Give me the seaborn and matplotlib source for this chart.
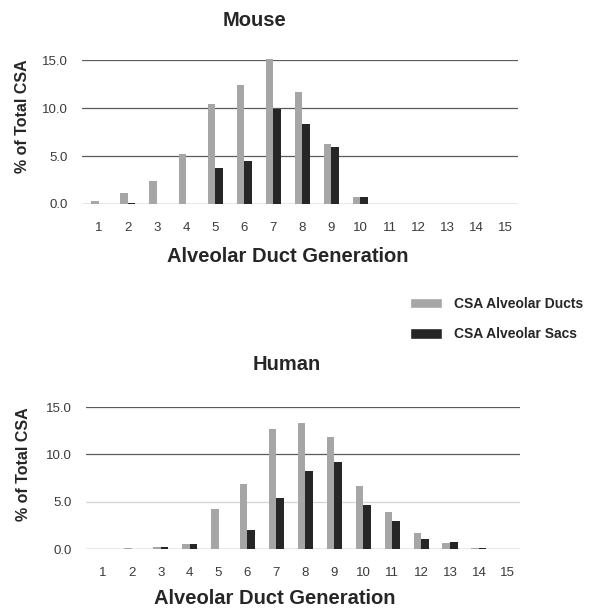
import matplotlib
matplotlib.use("Agg")
import matplotlib.pyplot as plt
import seaborn as sns
import pandas as pd
from matplotlib.patches import Patch

generations = [str(i) for i in range(1, 16)]
mouse_ducts = [0.3, 1.1, 2.4, 5.2, 10.4, 12.4, 15.1, 11.7, 6.3, 0.7, 0, 0, 0, 0, 0]
mouse_sacs = [0.0, 0.1, 0.0, 0.0, 3.7, 4.5, 9.9, 8.3, 5.9, 0.7, 0, 0, 0, 0, 0]
human_ducts = [0.0, 0.1, 0.2, 0.5, 4.2, 6.9, 12.7, 13.3, 11.8, 6.7, 3.9, 1.7, 0.6, 0.15, 0.0]
human_sacs = [0.0, 0.05, 0.2, 0.5, 0.0, 2.0, 5.4, 8.2, 9.2, 4.6, 3.0, 1.1, 0.7, 0.15, 0.0]
series_names = ["CSA Alveolar Ducts", "CSA Alveolar Sacs"]
yticks = [0, 5, 10, 15]
ytick_labels = ["0.0", "5.0", "10.0", "15.0"]

colors = ["#a6a6a6", "#262626"]

sns.set_style("white")
plt.rcParams['font.family'] = ['Liberation Sans', 'DejaVu Sans']

W, H = 591, 609
fig = plt.figure(figsize=(W / 100, H / 100), dpi=100)


def make_df(d, s):
    return pd.DataFrame({
        "Generation": generations * 2,
        "Value": d + s,
        "Series": [series_names[0]] * len(d) + [series_names[1]] * len(s),
    })


def draw(box, df, title, title_xy, xlabel_xy, ylabel_xy, faint5=False):
    # box = (left, right, top, bottom) in pixels
    l, r, t, b = box
    ax = fig.add_axes([l / W, 1 - b / H, (r - l) / W, (b - t) / H])
    sns.barplot(data=df, x="Generation", y="Value", hue="Series",
                palette=colors, width=0.52, ax=ax, legend=False,
                edgecolor="none", saturation=1)
    for p in ax.patches:
        p.set_clip_on(False)
    ax.set_ylim(0, 15)
    ax.set_xlim(-0.58, 14.42)
    ax.set_yticks(yticks)
    ax.set_yticklabels(ytick_labels)
    for y in [5, 10, 15]:
        c = "#d4d4d4" if (faint5 and y == 5) else "#5a5a5a"
        ax.axhline(y, color=c, lw=0.9, zorder=0)
    ax.axhline(0, color="#8a8a8a", lw=1.0, zorder=0)
    for sp in ax.spines.values():
        sp.set_visible(False)
    ax.tick_params(axis="y", length=0, labelsize=9.5, colors="#3a3a3a", pad=10)
    ax.tick_params(axis="x", length=0, labelsize=9.5, colors="#3a3a3a", pad=13)
    ax.set_ylabel("% of Total CSA", fontsize=11.5, fontweight="bold", va="center")
    ax.yaxis.set_label_coords((ylabel_xy[0] - l) / (r - l), (b - ylabel_xy[1]) / (b - t))
    ax.set_xlabel("Alveolar Duct Generation", fontsize=14.5, fontweight="bold", va="center")
    ax.xaxis.set_label_coords((xlabel_xy[0] - l) / (r - l), (b - xlabel_xy[1]) / (b - t))
    ax.set_title(title, fontsize=14.5, fontweight="bold", pad=0, va="center",
                 x=(title_xy[0] - l) / (r - l), y=(b - title_xy[1]) / (b - t))
    return ax


ax1 = draw((82, 518, 60, 204), make_df(mouse_ducts, mouse_sacs), "Mouse",
           (255, 20), (288, 257), (22, 116))
ax2 = draw((86, 520, 407, 549), make_df(human_ducts, human_sacs), "Human",
           (287, 365), (275, 599), (24, 464), faint5=True)

handles = [Patch(facecolor=colors[0]), Patch(facecolor=colors[1])]
fig.legend(handles, series_names, loc="center left", bbox_to_anchor=(410 / W, 1 - 319 / H),
           frameon=False, prop={"weight": "bold", "size": 10},
           handlelength=2.3, handleheight=0.8, handletextpad=0.9, labelspacing=1.2,
           borderpad=0, borderaxespad=0)

fig.savefig("out.png", dpi=100)
